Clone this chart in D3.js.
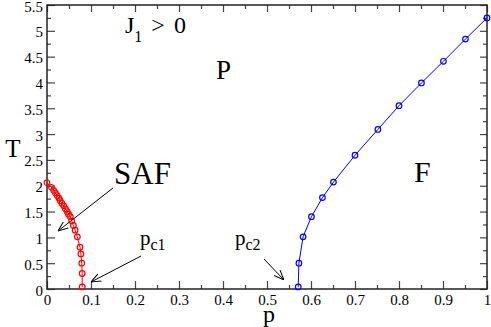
<!DOCTYPE html>
<html>
<head>
<meta charset="utf-8">
<script src="https://cdn.jsdelivr.net/npm/d3@7"></script>
<style>
  body { margin: 0; background: #fff; }
  svg text { font-family: "Liberation Serif", "Times New Roman", serif; }
</style>
</head>
<body>
<div id="chart"></div>
<script>
    // SAF boundary (red) and F boundary (blue)
    var safP = [0, 0.01, 0.015, 0.019, 0.023, 0.027, 0.030, 0.034, 0.038, 0.042, 0.046, 0.049, 0.053, 0.056, 0.060, 0.064, 0.069, 0.075, 0.077, 0.079, 0.080, 0.080];
    var safT = [2.06, 1.97, 1.91, 1.86, 1.81, 1.76, 1.71, 1.66, 1.61, 1.55, 1.50, 1.45, 1.40, 1.32, 1.23, 1.14, 1.01, 0.81, 0.68, 0.50, 0.30, 0.04];
    var fP = [0.571, 0.5725, 0.582, 0.601, 0.626, 0.651, 0.70, 0.752, 0.80, 0.851, 0.901, 0.951, 1.0];
    var fT = [0.04, 0.50, 1.01, 1.40, 1.77, 2.07, 2.59, 3.09, 3.55, 3.99, 4.41, 4.84, 5.25];

    var xMajor = d3.range(0, 11).map(d => d / 10);
    var xMinor = d3.range(0, 10).map(d => d / 10 + 0.05);
    var yMajor = d3.range(0, 12).map(d => d / 2);
    var yMinor = d3.range(0, 11).map(d => d / 2 + 0.25);

    var svgWidth = 491, svgHeight = 327;
    var margin = { top: 5, right: 4, bottom: 38, left: 47 };
    var plot_width = svgWidth - margin.left - margin.right;
    var plot_height = svgHeight - margin.top - margin.bottom;

    var svg = d3.select("#chart").append("svg")
        .attr("width", svgWidth)
        .attr("height", svgHeight);

    var chartGroup = svg.append("g")
        .attr("transform", `translate(${margin.left}, ${margin.top})`);

    var xScale = d3.scaleLinear().domain([0, 1]).range([0, plot_width]);
    var yScale = d3.scaleLinear().domain([0, 5.5]).range([plot_height, 0]);

    var fmt = d => d3.format("")(+d.toFixed(2));

    function styleAxis(g) {
        g.select(".domain").remove();
        g.selectAll("line").attr("stroke", "#444").attr("stroke-width", 1.2);
        g.selectAll("text").attr("fill", "#000").attr("font-size", "15px");
    }

    // bottom / left with labels
    chartGroup.append("g").attr("transform", `translate(0, ${plot_height})`)
        .call(d3.axisBottom(xScale).tickValues(xMajor).tickSize(-8).tickPadding(5).tickFormat(fmt))
        .call(styleAxis);
    chartGroup.append("g").attr("transform", `translate(0, ${plot_height})`)
        .call(d3.axisBottom(xScale).tickValues(xMinor).tickSize(-4).tickFormat(""))
        .call(styleAxis);
    chartGroup.append("g")
        .call(d3.axisLeft(yScale).tickValues(yMajor).tickSize(-8).tickPadding(4).tickFormat(fmt))
        .call(styleAxis)
        .selectAll("text").attr("dy", "0.4em");
    chartGroup.append("g")
        .call(d3.axisLeft(yScale).tickValues(yMinor).tickSize(-4).tickFormat(""))
        .call(styleAxis);

    // top / right mirror ticks
    chartGroup.append("g")
        .call(d3.axisTop(xScale).tickValues(xMajor).tickSize(-7).tickFormat(""))
        .call(styleAxis);
    chartGroup.append("g")
        .call(d3.axisTop(xScale).tickValues(xMinor).tickSize(-4).tickFormat(""))
        .call(styleAxis);
    chartGroup.append("g").attr("transform", `translate(${plot_width}, 0)`)
        .call(d3.axisRight(yScale).tickValues(yMajor).tickSize(-7).tickFormat(""))
        .call(styleAxis);
    chartGroup.append("g").attr("transform", `translate(${plot_width}, 0)`)
        .call(d3.axisRight(yScale).tickValues(yMinor).tickSize(-4).tickFormat(""))
        .call(styleAxis);

    // frame
    chartGroup.append("rect")
        .attr("width", plot_width).attr("height", plot_height)
        .attr("fill", "none").attr("stroke", "#222").attr("stroke-width", 1.5);

    var line = d3.line().x(d => xScale(d[0])).y(d => yScale(d[1]));

    function series(ps, ts, color) {
        var pts = ps.map((p, i) => [p, ts[i]]);
        chartGroup.append("path").datum(pts)
            .attr("d", line).attr("fill", "none")
            .attr("stroke", color).attr("stroke-width", 1);
        chartGroup.selectAll(null).data(pts).enter().append("circle")
            .attr("cx", d => xScale(d[0])).attr("cy", d => yScale(d[1]))
            .attr("r", 2.8).attr("fill", "none")
            .attr("stroke", color).attr("stroke-width", 1.2);
    }
    series(safP, safT, "#ff0000");
    series(fP, fT, "#0000ff");

    // axis titles
    svg.append("text").attr("x", 269).attr("y", 322).attr("text-anchor", "middle")
        .attr("font-size", "24px").text("p");
    svg.append("text").attr("x", 13).attr("y", 157).attr("text-anchor", "middle")
        .attr("font-size", "25px").text("T");

    // region labels
    var j = svg.append("text").attr("x", 125).attr("y", 33).attr("font-size", "24px");
    j.append("tspan").text("J");
    j.append("tspan").attr("font-size", "16px").attr("dy", 9).text("1");
    j.append("tspan").attr("dy", -9).attr("dx", 9).text(">");
    j.append("tspan").attr("dx", 9).text("0");

    svg.append("text").attr("x", 216).attr("y", 79).attr("font-size", "27px").text("P");
    svg.append("text").attr("x", 114).attr("y", 184).attr("font-size", "31px").text("SAF");
    svg.append("text").attr("x", 414).attr("y", 182).attr("font-size", "30px").text("F");

    var pc1 = svg.append("text").attr("x", 140).attr("y", 245).attr("font-size", "21px");
    pc1.append("tspan").text("p");
    pc1.append("tspan").attr("font-size", "16px").attr("dy", 5).text("c1");
    var pc2 = svg.append("text").attr("x", 235).attr("y", 245).attr("font-size", "21px");
    pc2.append("tspan").text("p");
    pc2.append("tspan").attr("font-size", "16px").attr("dy", 5).text("c2");

    // arrows
    svg.append("defs").append("marker")
        .attr("id", "arr").attr("viewBox", "0 0 10 10")
        .attr("refX", 10).attr("refY", 5)
        .attr("markerWidth", 10).attr("markerHeight", 10)
        .attr("markerUnits", "userSpaceOnUse")
        .attr("orient", "auto")
        .append("path").attr("d", "M0,1 L10,5 L0,9")
        .attr("fill", "none").attr("stroke", "#000").attr("stroke-width", 1);

    var arrows = [[113, 188, 58, 231], [141, 256, 91, 282], [264, 259, 284, 280]];
    svg.selectAll(".arrow").data(arrows).enter().append("line")
        .attr("x1", d => d[0]).attr("y1", d => d[1])
        .attr("x2", d => d[2]).attr("y2", d => d[3])
        .attr("stroke", "#000").attr("stroke-width", 1)
        .attr("marker-end", "url(#arr)");
</script>
</body>
</html>
